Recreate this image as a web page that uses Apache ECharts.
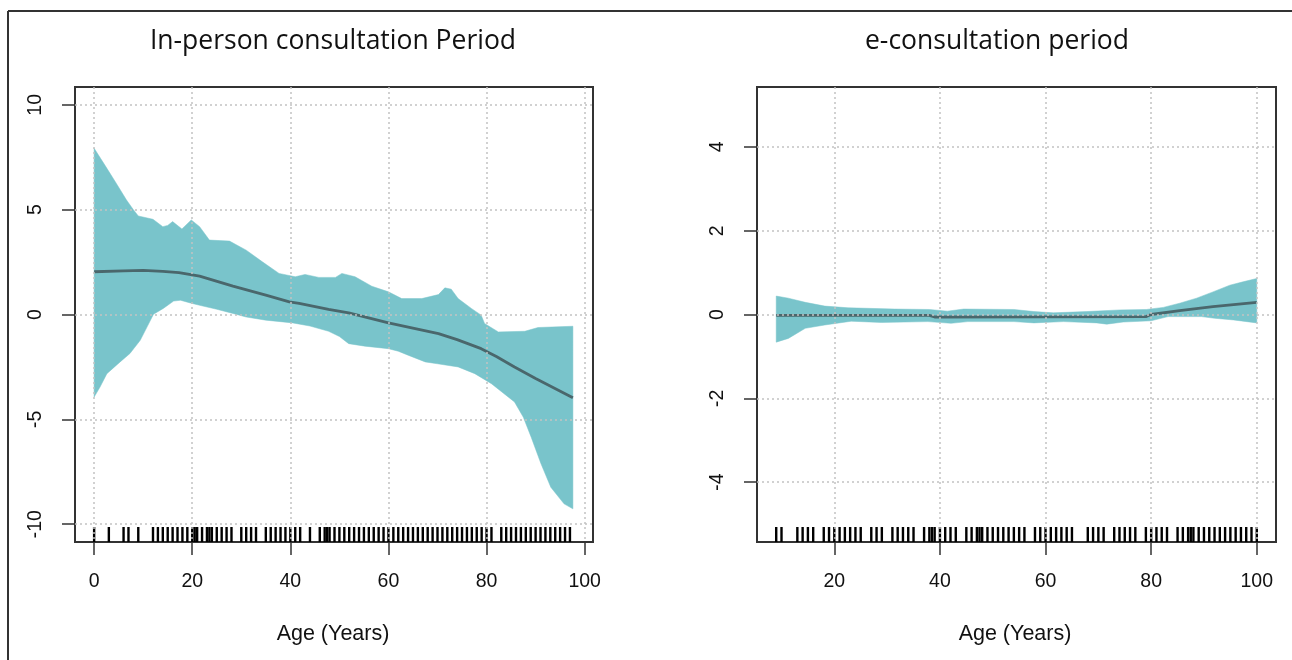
<!DOCTYPE html>
<html><head><meta charset="utf-8">
<script src="https://cdn.jsdelivr.net/npm/echarts@6/dist/echarts.min.js"></script>
<style>html,body{margin:0;padding:0;background:#fff}#c{width:1292px;height:660px}</style>
</head><body><div id="c"></div>
<script>
// ---- texts & ticks ----
const leftTitle = 'In-person consultation Period';
const rightTitle = 'e-consultation period';
const xName = 'Age (Years)';
const leftXTicks = [0, 20, 40, 60, 80, 100];
const leftYTicks = [-10, -5, 0, 5, 10];
const rightXTicks = [20, 40, 60, 80, 100];
const rightYTicks = [-4, -2, 0, 2, 4];

// ---- left panel: in-person (x = age, y = effect) ----
const leftUpper = [[0,7.93],[1.3,7.45],[2.6,6.97],[4.5,6.26],[6.6,5.46],[8,5.0],[9,4.70],[12,4.54],[14,4.19],[15,4.25],[16,4.43],[17.9,4.08],[19.8,4.51],[21.5,4.19],[23.5,3.55],[27.6,3.50],[31,3.07],[34.3,2.51],[37.7,1.96],[41,1.80],[43,1.91],[45.8,1.77],[49.2,1.77],[50.5,1.96],[53.2,1.80],[56.6,1.35],[60,1.08],[62.7,0.76],[66.8,0.76],[70.2,0.95],[71.5,1.27],[72.8,1.21],[74.2,0.76],[76.9,0.29],[78.9,-0.03],[79.6,-0.43],[82.4,-0.83],[87.8,-0.80],[90.5,-0.62],[97.6,-0.56]];
const leftLower = [[0,-3.94],[1.2,-3.46],[2.6,-2.82],[5.3,-2.26],[7.3,-1.86],[9.4,-1.23],[10.8,-0.59],[12.1,0.01],[14.1,0.29],[16.2,0.64],[17.6,0.68],[19.6,0.55],[21.5,0.44],[25,0.25],[28.3,0.05],[31,-0.12],[35,-0.27],[40.5,-0.40],[44,-0.55],[47.8,-0.80],[50,-1.05],[51.9,-1.39],[55.2,-1.51],[60,-1.63],[62,-1.75],[64,-1.94],[67.5,-2.26],[70,-2.35],[74.2,-2.50],[77.6,-2.82],[81,-3.30],[85.7,-4.17],[87.5,-4.90],[89.1,-5.85],[91.1,-7.12],[93.1,-8.24],[95.8,-9.03],[97.6,-9.27]];
const leftFit = [[0,2.04],[6,2.08],[10,2.10],[14,2.06],[17.3,2.00],[21.5,1.83],[28.3,1.35],[35,0.92],[39.8,0.60],[41.8,0.53],[47.8,0.24],[51.9,0.08],[60,-0.40],[70.2,-0.91],[74,-1.20],[78.9,-1.63],[82,-2.00],[85.7,-2.50],[90,-3.05],[97.6,-3.97]];
const leftRug = [0,3,6,7,9,12,13,14,15,16,17,18,19,20,20.5,21,22,23,23.5,24,25,26,27,28,30,31,32,33,35,36,37,38,39,40,41,42,44,46,47,47.5,48,49,50,51,52,53,54,55,56,57,58,59,60,61,62,63,64,65,66,67,68,69,70,71,72,73,74,75,76,77,78,79,80,81,83,84,85,86,87,88,89,90,91,92,93,94,95,96,97];

// ---- right panel: e-consultation ----
const rightUpper = [[9,0.44],[11.3,0.39],[14.5,0.29],[18.2,0.20],[22.6,0.16],[31.4,0.13],[38,0.12],[41.4,0.08],[44.5,0.13],[54,0.12],[57.8,0.07],[61.5,0.04],[67.8,0.07],[74.1,0.11],[79.1,0.12],[82.3,0.17],[85.4,0.27],[88.6,0.39],[91.7,0.54],[94.9,0.70],[97.4,0.78],[100,0.86]];
const rightLower = [[9,-0.66],[11.3,-0.57],[14.5,-0.33],[18.2,-0.25],[23.2,-0.16],[28.9,-0.19],[37.7,-0.17],[42.1,-0.21],[45.3,-0.17],[54,-0.17],[57.8,-0.20],[63.4,-0.17],[69.7,-0.20],[71.6,-0.23],[74.7,-0.18],[80,-0.15],[83.2,-0.05],[89.5,-0.05],[92,-0.09],[95.6,-0.13],[100,-0.20]];
const rightFit = [[9,-0.02],[38,-0.02],[39,-0.06],[79,-0.05],[80,0.0],[85.4,0.09],[91.7,0.19],[100,0.29]];
const rightRug = [9,10,13,14,15,16,18,19,20,21,22,23,24,25,27,28,29,31,32,33,34,35,37,38,38.5,39,40,41,42,43,45,46,47,47.5,48,49,50,51,52,53,54,55,56,58,59,60,61,62,63,64,65,68,69,70,71,73,74,75,76,77,79,80,81,82,83,85,86,87,87.5,88,89,90,91,92,93,94,95,96,97,98,99,100];

// ---- styles ----
const bandColor = '#79c4cb';
const fitColor = '#4a676c';
const gridLine = {show:true, lineStyle:{color:'#c2c2c2', type:[2,3], width:1.5}};
const labelFont = {fontFamily:'Liberation Sans, Arial, sans-serif', fontSize:19.5, color:'#111'};

function xAxisCfg(idx, min, max, ticks){
  return {type:'value', gridIndex:idx, min:min, max:max, z:3,
    axisLine:{show:false, onZero:false},
    axisTick:{show:true, inside:false, length:13, customValues:ticks, lineStyle:{color:'#333', width:1.5}},
    axisLabel:Object.assign({customValues:ticks, margin:30}, labelFont),
    splitLine:gridLine};
}
function yAxisCfg(idx, min, max, ticks){
  return {type:'value', gridIndex:idx, min:min, max:max, z:3,
    axisLine:{show:false, onZero:false},
    axisTick:{show:true, inside:false, length:13, customValues:ticks, lineStyle:{color:'#333', width:1.5}},
    axisLabel:Object.assign({customValues:ticks, margin:29, rotate:90}, labelFont),
    splitLine:gridLine};
}
function bandSeries(idx, upper, lower){
  return {type:'custom', xAxisIndex:idx, yAxisIndex:idx, z:1, silent:true,
    data:[[upper[0][0], upper[0][1]]],
    renderItem:function(params, api){
      const pts = upper.map(p=>api.coord(p)).concat(lower.slice().reverse().map(p=>api.coord(p)));
      return {type:'polygon', shape:{points:pts}, style:{fill:bandColor, stroke:bandColor, lineWidth:0.5}};
    }};
}
function rugSeries(idx, rug){
  return {type:'custom', xAxisIndex:idx, yAxisIndex:idx, z:2, silent:true,
    encode:{x:0, y:1},
    data:rug.map(v=>[v,0]),
    renderItem:function(params, api){
      const p = api.coord([api.value(0), 0]);
      const b = params.coordSys.y + params.coordSys.height;
      return {type:'line', shape:{x1:p[0], y1:b, x2:p[0], y2:b-15}, style:{stroke:'#000', lineWidth:2.4}};
    }};
}
function fitSeries(idx, fit){
  return {type:'line', xAxisIndex:idx, yAxisIndex:idx, z:2, silent:true, showSymbol:false, symbol:'none',
    data:fit, lineStyle:{color:fitColor, width:2.8}};
}

const chart = echarts.init(document.getElementById('c'), null, {renderer:'canvas'});
const titleFont = {fontFamily:'Open Sans, sans-serif', fontSize:26.5, fill:'#111'};
const nameFont = {fontFamily:'Liberation Sans, Arial, sans-serif', fontSize:21.5, fill:'#111'};
chart.setOption({
  animation:false,
  backgroundColor:'#ffffff',
  grid:[
    {left:75, top:87, width:518, height:455, show:true, borderColor:'#333', borderWidth:2, backgroundColor:'transparent'},
    {left:757, top:87, width:519, height:455, show:true, borderColor:'#333', borderWidth:2, backgroundColor:'transparent'}
  ],
  xAxis:[xAxisCfg(0,-3.9,101.7,leftXTicks), xAxisCfg(1,5.36,103.64,rightXTicks)],
  yAxis:[yAxisCfg(0,-10.85,10.85,leftYTicks), yAxisCfg(1,-5.43,5.43,rightYTicks)],
  series:[
    bandSeries(0,leftUpper,leftLower), fitSeries(0,leftFit), rugSeries(0,leftRug),
    bandSeries(1,rightUpper,rightLower), fitSeries(1,rightFit), rugSeries(1,rightRug)
  ],
  graphic:[
    {type:'line', shape:{x1:8, y1:11, x2:1292, y2:11}, style:{stroke:'#333', lineWidth:2}},
    {type:'line', shape:{x1:8, y1:11, x2:8, y2:660}, style:{stroke:'#333', lineWidth:2}},
    {type:'text', x:333, y:41, style:Object.assign({text:leftTitle, textAlign:'center', textVerticalAlign:'middle'}, titleFont)},
    {type:'text', x:997, y:41, style:Object.assign({text:rightTitle, textAlign:'center', textVerticalAlign:'middle'}, titleFont)},
    {type:'text', x:333, y:634, style:Object.assign({text:xName, textAlign:'center', textVerticalAlign:'middle'}, nameFont)},
    {type:'text', x:1015, y:634, style:Object.assign({text:xName, textAlign:'center', textVerticalAlign:'middle'}, nameFont)}
  ]
});
</script></body></html>
